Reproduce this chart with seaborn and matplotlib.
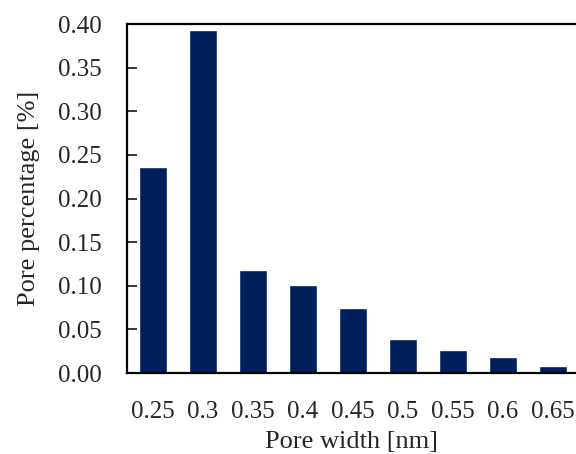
import matplotlib
matplotlib.use("Agg")
import matplotlib.pyplot as plt
import seaborn as sns
import pandas as pd

# data
pore_width = ["0.25", "0.3", "0.35", "0.4", "0.45", "0.5", "0.55", "0.6", "0.65"]
pore_pct = [0.236, 0.393, 0.118, 0.101, 0.074, 0.039, 0.026, 0.018, 0.008]
y_ticks = [0.00, 0.05, 0.10, 0.15, 0.20, 0.25, 0.30, 0.35, 0.40]

df = pd.DataFrame({"width": pore_width, "pct": pore_pct})

sns.set_style("white")
plt.rcParams["font.family"] = ["Liberation Serif", "DejaVu Serif"]

fig = plt.figure(figsize=(5.76, 4.54), dpi=100)
ax = fig.add_axes([0.2205, 0.1784, 0.7795, 0.7686])

sns.barplot(data=df, x="width", y="pct", color="#001F5B", saturation=1,
            width=0.56, ax=ax)

ax.set_xlim(-0.52, 8.46)
ax.set_ylim(0, 0.40)
ax.set_yticks(y_ticks)
ax.set_yticklabels([f"{t:.2f}" for t in y_ticks])

for s in ["left", "bottom", "top"]:
    ax.spines[s].set_visible(True)
    ax.spines[s].set_color("black")
    ax.spines[s].set_linewidth(1.6)
ax.spines["right"].set_visible(False)

ax.tick_params(axis="y", direction="in", length=7, width=1.3, left=True,
               pad=18, labelsize=18)
ax.tick_params(axis="x", length=0, pad=20, labelsize=18)

ax.set_xlabel("Pore width [nm]", fontsize=19, labelpad=6)
ax.set_ylabel("Pore percentage [%]", fontsize=19, labelpad=13)

fig.savefig("out.png", dpi=100)
